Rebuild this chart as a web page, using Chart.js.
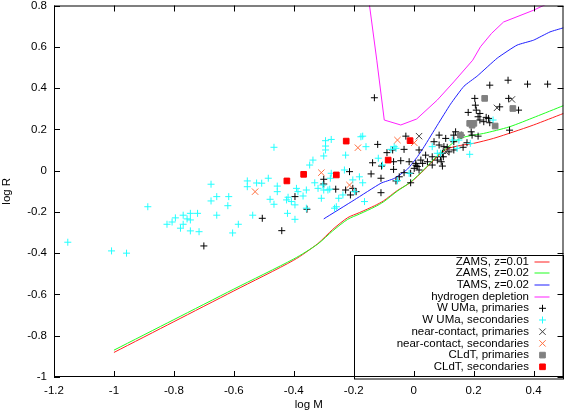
<!DOCTYPE html>
<html>
<head>
<meta charset="utf-8">
<script src="https://cdn.jsdelivr.net/npm/chart.js@4.4.1/dist/chart.umd.min.js"></script>
<style>
  html, body { margin: 0; padding: 0; background: #fff; }
  #wrap { width: 569px; height: 415px; }
</style>
</head>
<body>
<div id="wrap"><canvas id="massRadius" width="569" height="415"></canvas></div>
<script>
// axis ticks
const xTicks = [-1.2, -1, -0.8, -0.6, -0.4, -0.2, 0, 0.2, 0.4];
const xTickLabels = ['-1.2', '-1', '-0.8', '-0.6', '-0.4', '-0.2', '0', '0.2', '0.4'];
const yTicks = [-1, -0.8, -0.6, -0.4, -0.2, 0, 0.2, 0.4, 0.6, 0.8];
const yTickLabels = ['-1', '-0.8', '-0.6', '-0.4', '-0.2', '0', '0.2', '0.4', '0.6', '0.8'];

// model tracks, [log M, log R]
const zams001 = [[-1.0,-0.881],[-0.8,-0.732],[-0.6,-0.583],[-0.4,-0.434],[-0.32,-0.354],[-0.27,-0.285],
  [-0.22,-0.228],[-0.18,-0.203],[-0.13,-0.170],[-0.10,-0.146],[-0.055,-0.097],[-0.01,-0.057],[0.035,0.003],
  [0.079,0.067],[0.112,0.105],[0.156,0.122],[0.20,0.132],[0.266,0.156],[0.334,0.188],[0.40,0.221],[0.50,0.277]];
const zams002 = [[-1.0,-0.870],[-0.8,-0.722],[-0.6,-0.574],[-0.4,-0.428],[-0.32,-0.356],[-0.27,-0.292],
  [-0.22,-0.236],[-0.18,-0.210],[-0.13,-0.176],[-0.10,-0.151],[-0.055,-0.100],[-0.01,-0.055],[0.035,0.006],
  [0.079,0.072],[0.112,0.112],[0.145,0.148],[0.175,0.165],[0.233,0.180],[0.319,0.212],[0.407,0.261],[0.50,0.315]];
const tams002 = [[-0.300,-0.234],[-0.198,-0.142],[-0.109,-0.061],[-0.065,-0.038],[-0.02,0.008],[0.013,0.068],
  [0.035,0.116],[0.079,0.220],[0.123,0.322],[0.168,0.409],[0.212,0.458],[0.279,0.545],[0.345,0.608],
  [0.40,0.632],[0.455,0.672],[0.50,0.692]];
const hDepletion = [[-0.150,0.83],[-0.123,0.535],[-0.098,0.245],[-0.043,0.221],[0.010,0.250],[0.079,0.342],
  [0.134,0.430],[0.197,0.535],[0.223,0.600],[0.26,0.665],[0.300,0.720],[0.400,0.777],[0.47,0.825]];

// observed systems, [log M, log R]
const wumaPrim = [[-0.700,-0.365],[-0.505,-0.231],[-0.440,-0.291],[-0.396,-0.126],[-0.356,-0.187],[-0.300,-0.042],
  [-0.300,-0.065],[-0.260,-0.090],[-0.227,-0.094],[-0.211,-0.118],[-0.203,-0.086],[-0.192,-0.102],[-0.214,-0.005],
  [-0.131,0.353],[-0.026,0.167],[-0.120,0.127],[-0.089,0.087],[-0.070,0.100],[-0.137,0.038],[-0.107,0.022],
  [-0.043,0.048],[-0.067,0.006],[-0.142,-0.016],[-0.109,-0.037],[-0.048,-0.030],[-0.059,-0.050],[0.018,0.100],
  [0.024,0.051],[0.007,0.035],[0.002,0.011],[0.018,0.003],[-0.010,-0.013],[-0.032,-0.010],[-0.010,-0.059],
  [-0.109,-0.107],[0.085,0.172],[0.107,0.156],[0.134,0.172],[0.068,0.140],[0.085,0.124],[0.101,0.116],
  [0.118,0.091],[0.134,0.100],[0.062,0.067],[0.079,0.051],[0.090,0.067],[0.046,0.043],[0.062,0.027],
  [0.096,0.084],[0.134,0.140],[0.254,0.414],[0.315,0.438],[0.380,0.419],[0.447,0.419],[0.204,0.350],
  [0.317,0.350],[0.287,0.309],[0.206,0.317],[0.209,0.293],[0.182,0.282],[0.221,0.277],[0.215,0.261],
  [0.242,0.258],[0.221,0.245],[0.234,0.237],[0.254,0.232],[0.250,0.253],[0.320,0.196],[0.192,0.188],
  [0.195,0.172],[0.215,0.167],[0.178,0.135],[0.159,0.172],[0.140,0.188],[0.099,0.067],[0.092,0.043],
  [0.096,0.022],[0.350,0.293],[0.165,0.113],[0.112,0.113],[-0.032,0.103],[-0.015,0.043],[0.012,0.020],
  [0.040,0.075],[0.030,0.035],[-0.067,0.043],[0.008,0.026]];
const wumaSec = [[-1.154,-0.347],[-1.008,-0.389],[-0.958,-0.400],[-0.887,-0.175],[-0.823,-0.260],[-0.806,-0.249],
  [-0.795,-0.229],[-0.778,-0.279],[-0.769,-0.216],[-0.756,-0.234],[-0.745,-0.207],[-0.745,-0.239],[-0.769,-0.260],
  [-0.745,-0.292],[-0.721,-0.207],[-0.716,-0.296],[-0.676,-0.066],[-0.676,-0.147],[-0.657,-0.126],[-0.657,-0.216],
  [-0.620,-0.170],[-0.617,-0.126],[-0.604,-0.302],[-0.585,-0.260],[-0.555,-0.050],[-0.555,-0.078],[-0.524,-0.060],
  [-0.537,-0.216],[-0.466,0.113],[-0.507,-0.061],[-0.485,-0.037],[-0.455,-0.075],[-0.455,-0.102],[-0.479,-0.139],
  [-0.466,-0.163],[-0.424,-0.142],[-0.419,-0.129],[-0.408,-0.150],[-0.391,-0.086],[-0.386,-0.102],[-0.396,-0.166],
  [-0.369,-0.123],[-0.358,-0.094],[-0.330,-0.059],[-0.319,-0.086],[-0.303,-0.070],[-0.300,-0.094],[-0.308,-0.134],
  [-0.286,-0.094],[-0.275,-0.013],[-0.278,-0.037],[-0.250,-0.134],[-0.236,-0.118],[-0.231,0.003],[-0.203,-0.045],
  [-0.181,-0.030],[-0.421,-0.207],[-0.396,-0.236],[-0.358,-0.182],[-0.294,0.145],[-0.275,0.151],[-0.294,0.119],
  [-0.294,0.100],[-0.300,0.071],[-0.336,0.051],[-0.347,0.027],[-0.227,0.075],[-0.176,0.164],[-0.170,0.167],
  [-0.159,0.116],[-0.065,0.116],[-0.118,0.060],[-0.015,-0.013],[-0.164,-0.150],[-0.170,-0.059],[0.129,0.148],
  [0.079,0.084],[-0.264,-0.182],[-0.280,-0.090],[-0.197,-0.102],[-0.104,0.027],[-0.059,0.108],[-0.076,0.103],
  [-0.054,-0.049],[0.062,0.116],[0.090,0.084],[0.189,0.132],[0.187,0.079],[0.265,0.245],[0.145,0.108],
  [0.151,0.148],[-0.258,-0.175]];
const nearPrim = [[0.018,0.167],[0.278,0.304],[0.328,0.345],[0.107,0.091]];
const nearSec = [[-0.529,-0.102],[-0.308,-0.010],[-0.214,-0.070],[-0.186,0.111],[-0.054,0.148],[0.002,0.135]];
const cldtPrim = [[0.237,0.350],[0.331,0.301],[0.187,0.229],[0.201,0.229],[0.195,0.220],[0.272,0.216],[0.156,0.172]];
const cldtSec = [[-0.423,-0.050],[-0.367,-0.018],[-0.258,-0.021],[-0.225,0.143],[-0.085,0.051],[-0.012,0.145]];

// one colour per series, same order as the key
const seriesColors = ['#ff2020', '#20ff20', '#2020ff', '#ff20ff', '#000000', '#22ffff',
  '#404040', '#ff7040', '#808080', '#ff0000'];

const FONT = 'Liberation Sans, Arial, Helvetica, sans-serif';
Chart.defaults.font.family = FONT;
Chart.defaults.font.size = 11.5;
Chart.defaults.color = '#000';

function pts(list) {
  return list.map(p => ({ x: p[0], y: p[1] }));
}

function track(label, list, color, tension) {
  return { label, data: pts(list), showLine: true, borderColor: color, backgroundColor: color,
    borderWidth: 1, pointRadius: 0, pointHoverRadius: 0, tension: tension, fill: false };
}

function marks(label, list, color, style, r) {
  return { label, data: pts(list), showLine: false, pointStyle: style, pointRadius: r, pointHoverRadius: r,
    borderColor: color, backgroundColor: color, pointBorderWidth: 1, borderWidth: 1 };
}

const datasets = [
  track('ZAMS, z=0.01', zams001, seriesColors[0], 0.25),
  track('ZAMS, z=0.02', zams002, seriesColors[1], 0.25),
  track('TAMS, z=0.02', tams002, seriesColors[2], 0.15),
  track('hydrogen depletion', hDepletion, seriesColors[3], 0),
  marks('W UMa, primaries', wumaPrim, seriesColors[4], 'cross', 3.5),
  marks('W UMa, secondaries', wumaSec, seriesColors[5], 'cross', 3.5),
  marks('near-contact, primaries', nearPrim, seriesColors[6], 'crossRot', 4.5),
  marks('near-contact, secondaries', nearSec, seriesColors[7], 'crossRot', 4.5),
  marks('CLdT, primaries', cldtPrim, seriesColors[8], 'rect', 4),
  marks('CLdT, secondaries', cldtSec, seriesColors[9], 'rect', 4)
];
const keyStyles = datasets.map(d => ({ line: !!d.showLine, style: d.pointStyle, r: d.pointRadius }));
// later sets go on top, like the original plot
datasets.forEach((d, i) => { d.order = datasets.length - i; });

// frame with inward ticks on all four sides + boxed key in the lower right
const frameAndKey = {
  id: 'frameAndKey',
  afterDraw(chart) {
    const { ctx, chartArea: a, scales } = chart;
    ctx.save();

    // key
    const kl = Math.round(a.right - 210) + 0.5;
    const kt = Math.round(a.bottom - 122) + 0.5;
    ctx.fillStyle = '#fff';
    ctx.fillRect(kl, kt, a.right - kl, a.bottom - kt);
    ctx.strokeStyle = '#000';
    ctx.lineWidth = 1;
    ctx.strokeRect(kl, kt, a.right - kl, a.bottom - kt + 2);

    ctx.font = '11.5px ' + FONT;
    ctx.textAlign = 'right';
    ctx.textBaseline = 'middle';
    datasets.forEach((ds, i) => {
      const ry = kt + 6 + i * 11.7;
      const col = seriesColors[i];
      const k = keyStyles[i];
      ctx.fillStyle = '#000';
      ctx.fillText(ds.label, a.right - 34.5, ry);
      if (k.line) {
        ctx.fillStyle = col;
        ctx.fillRect(a.right - 29, Math.round(ry) - 0.5, 15, 1);
      } else {
        ctx.strokeStyle = col;
        ctx.fillStyle = col;
        ctx.lineWidth = 1;
        Chart.helpers.drawPoint(ctx, { pointStyle: k.style, radius: k.r, rotation: 0, borderWidth: 1 },
          a.right - 21, ry);
      }
    });

    // frame
    ctx.strokeStyle = '#000';
    ctx.lineWidth = 1;
    ctx.strokeRect(a.left + 0.5, a.top + 0.5, a.right - a.left - 1, a.bottom - a.top - 1);

    const tl = 6;
    ctx.beginPath();
    scales.x.ticks.forEach(t => {
      const px = Math.round(scales.x.getPixelForValue(t.value)) + 0.5;
      ctx.moveTo(px, a.bottom); ctx.lineTo(px, a.bottom - tl);
      ctx.moveTo(px, a.top); ctx.lineTo(px, a.top + tl);
    });
    scales.y.ticks.forEach(t => {
      const py = Math.round(scales.y.getPixelForValue(t.value)) + 0.5;
      ctx.moveTo(a.left, py); ctx.lineTo(a.left + tl, py);
      ctx.moveTo(a.right, py); ctx.lineTo(a.right - tl, py);
    });
    ctx.stroke();
    ctx.restore();
  }
};

new Chart(document.getElementById('massRadius'), {
  type: 'scatter',
  data: { datasets },
  options: {
    responsive: false,
    devicePixelRatio: 1,
    animation: false,
    events: [],
    layout: { padding: { left: 0, right: 2, top: 5, bottom: 0 } },
    plugins: { legend: { display: false }, tooltip: { enabled: false } },
    scales: {
      x: {
        type: 'linear',
        position: 'bottom',
        min: -1.2,
        max: 0.5,
        afterBuildTicks: s => { s.ticks = xTicks.map(v => ({ value: v })); },
        afterFit: s => { s.height = 38; s.paddingLeft = 0; s.paddingRight = 0; },
        ticks: { autoSkip: false, maxRotation: 0, padding: 7, callback: (v, i) => xTickLabels[i] },
        grid: { display: false, drawTicks: false },
        border: { display: false },
        title: { display: true, text: 'log M', padding: { top: 0, bottom: 3 } }
      },
      y: {
        type: 'linear',
        min: -1,
        max: 0.8,
        afterBuildTicks: s => { s.ticks = yTicks.map(v => ({ value: v })); },
        afterFit: s => { s.width = 54; s.paddingTop = 0; s.paddingBottom = 0; },
        ticks: { autoSkip: false, padding: 7, callback: (v, i) => yTickLabels[i] },
        grid: { display: false, drawTicks: false },
        border: { display: false },
        title: { display: true, text: 'log R', padding: { top: 0, bottom: 0 } }
      }
    }
  },
  plugins: [frameAndKey]
});
</script>
</body>
</html>
